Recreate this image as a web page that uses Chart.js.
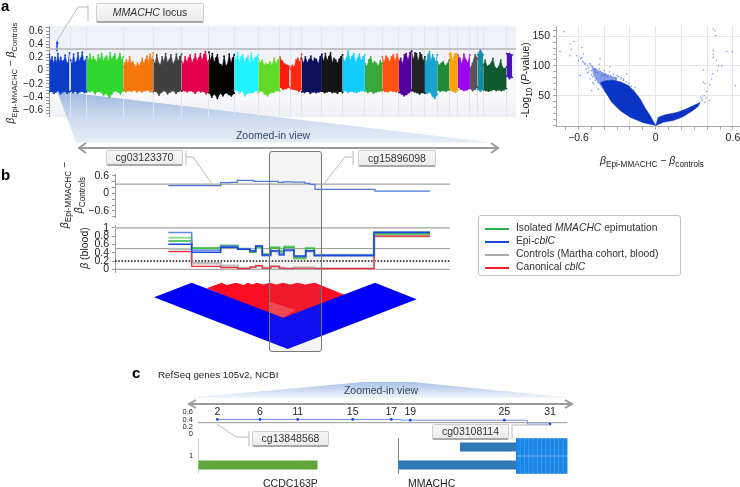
<!DOCTYPE html>
<html>
<head>
<meta charset="utf-8">
<title>Epi-MMACHC figure</title>
<script src="https://cdn.jsdelivr.net/npm/chart.js@4"></script>
<style>
  html, body { margin: 0; padding: 0; background: #fff; }
  body { width: 740px; height: 487px; position: relative; overflow: hidden; font-family: "Liberation Sans", sans-serif; color: #222; }
  canvas, svg, .t, .box, #legend, #mhBack, #focus { position: absolute; }
  .t { white-space: nowrap; font-size: 10.5px; line-height: 1; }
  .rot { transform: translate(-50%, -50%) rotate(-90deg); }
  .mid { transform: translate(-50%, -50%); }
  .panel { font-weight: bold; font-size: 15px; color: #000; }
  .box { background: linear-gradient(#f8f8f8, #ececec); border: 1px solid #cfcfcf; border-bottom: 2px solid #a8a8a8; border-radius: 2px;
         box-sizing: border-box; font-size: 10.5px; color: #333; text-align: center; }
  sub { font-size: .78em; line-height: 0; }
  #mhBack { left: 49px; top: 26px; width: 467px; height: 91px; background: linear-gradient(#eef0f7, #f4f5fa 55%, #fafafc 75%, #eff0f6); }
  #focus { left: 269px; top: 151px; width: 51px; height: 199px; border: 1px solid #777; border-radius: 3px; background: rgba(150,150,150,.1); }
  #legend { left: 478px; top: 215px; width: 203px; height: 61px; border: 1px solid #c4c4c4; border-radius: 3px; background: #fff; box-sizing: border-box; }
  #legend div { position: absolute; left: 37px; white-space: nowrap; font-size: 10.3px; color: #333; line-height: 1; }
  #legend i.k { position: absolute; left: 6px; width: 24px; height: 2px; }
</style>
</head>
<body>

<div id="mhBack"></div>

<svg width="740" height="487" style="left:0;top:0">
  <defs>
    <linearGradient id="zoomA" x1="0" y1="0" x2="0" y2="1">
      <stop offset="0" stop-color="#9db6e0"/><stop offset=".55" stop-color="#cfdcef"/><stop offset="1" stop-color="#e6edf7"/>
    </linearGradient>
    <linearGradient id="zoomC" x1="0" y1="0" x2="0" y2="1">
      <stop offset="0" stop-color="#a9c0e6"/><stop offset="1" stop-color="#f2f5fb"/>
    </linearGradient>
  </defs>
  <polygon points="57,91 492,142.5 76,142.5" fill="url(#zoomA)"/>
  <polygon points="187,398 363,382 413,382 573,398" fill="url(#zoomC)"/>
</svg>

<canvas id="manhattan" width="517" height="93" style="left:0;top:25px"></canvas>
<canvas id="volcano" width="230" height="122" style="left:520px;top:25px"></canvas>
<canvas id="diffTrack" width="452" height="51" style="left:0;top:168px"></canvas>
<canvas id="betaTrack" width="452" height="51" style="left:0;top:223px"></canvas>
<canvas id="ldBlocks" width="335" height="72" style="left:115px;top:280px"></canvas>
<canvas id="locusTrack" width="450" height="36" style="left:120px;top:403px"></canvas>
<canvas id="geneTrack" width="448" height="36" style="left:120px;top:438px"></canvas>

<svg width="740" height="487" style="left:0;top:0" fill="none">
  <g stroke="#b9b9b9" stroke-width="1">
    <path d="M57,41 L78,7 L88,7 M88,5 L88,21"/>
    <path d="M186,151 L186,165 M186,157 L193,157 L212,184"/>
    <path d="M353,151 L353,165 M353,157 L345,157 L323,185"/>
    <path d="M217,424 L236,437 L249,437 M249,431 L249,446"/>
    <path d="M512,425 L512,439 M512,425 L550,425"/>
  </g>
  <g stroke="#9b9b9b" stroke-width="2">
    <path d="M79,148 L498,148 M86,143 L79,148 L86,153 M491,143 L498,148 L491,153"/>
    <path d="M189,404 L572,404 M196,400 L189,404 L196,408 M565,400 L572,404 L565,408"/>
  </g>
</svg>

<div id="focus"></div>

<div class="t panel" style="left:1px;top:-2px">a</div>
<div class="t panel" style="left:1px;top:167px">b</div>
<div class="t panel" style="left:132px;top:365px">c</div>

<div class="t rot" style="left:11px;top:73px;font-size:10px"><i>β</i><sub>Epi-MMACHC</sub> − <i>β</i><sub>Controls</sub></div>
<div class="t rot" style="left:525px;top:80px">-Log<sub>10</sub> (<i>P</i>-value)</div>
<div class="t mid" style="left:652px;top:160px"><i>β</i><sub>Epi-MMACHC</sub> − <i>β</i><sub>controls</sub></div>
<div class="t rot" style="left:64px;top:195px"><i>β</i><sub>Epi-MMACHC</sub> −</div>
<div class="t rot" style="left:78px;top:195px"><i>β</i><sub>Controls</sub></div>
<div class="t rot" style="left:84px;top:248px"><i>β</i> (blood)</div>

<div class="box" style="left:96px;top:3px;width:108px;height:20px;line-height:17px"><i>MMACHC</i> locus</div>
<div class="box" style="left:106px;top:150px;width:77px;height:16px;line-height:13px">cg03123370</div>
<div class="box" style="left:358px;top:150px;width:78px;height:17px;line-height:14px">cg15896098</div>
<div class="box" style="left:252px;top:431px;width:77px;height:16px;line-height:13px">cg13848568</div>
<div class="box" style="left:432px;top:424px;width:77px;height:16px;line-height:13px">cg03108114</div>

<div class="t mid" style="left:273px;top:135px;color:#33476b">Zoomed-in view</div>
<div class="t mid" style="left:381px;top:390px;color:#33476b">Zoomed-in view</div>
<div class="t" style="left:158px;top:370px;font-size:9.8px">RefSeq genes 105v2, NCBI</div>
<div class="t" style="left:263px;top:478px">CCDC163P</div>
<div class="t" style="left:408px;top:478px">MMACHC</div>
<div class="t" style="left:189px;top:452px;font-size:7.5px">1</div>

<div id="legend">
  <i class="k" style="top:11.5px;background:#2ab04a"></i><div style="top:7px">Isolated <i>MMACHC</i> epimutation</div>
  <i class="k" style="top:24.5px;background:#1a44e0"></i><div style="top:20px">Epi-<i>cblC</i></div>
  <i class="k" style="top:37.5px;background:#aaa"></i><div style="top:33px">Controls (Martha cohort, blood)</div>
  <i class="k" style="top:50.5px;background:#ee1c25"></i><div style="top:46px">Canonical <i>cblC</i></div>
</div>

<script>
// panel a, manhattan: envelope of the points per chromosome
const chromStarts = [0.3, 21.7, 37.7, 74.3, 104.3, 132.7, 160, 185.3, 209.3, 231, 241.5, 252.7, 273, 293.7, 316, 333.3, 350, 362.7, 376, 388.3, 400.3, 409, 421, 428.7, 434.3, 457.7];
const chromEnds = [20.5, 37.7, 74.3, 104.3, 132.7, 160, 185.3, 209.3, 231, 240.5, 252.7, 273, 293.7, 316, 333.3, 350, 362.7, 376, 388.3, 400.3, 409, 421, 428.7, 434.3, 457.7, 463.3];
const chromColors = ["#0a3cc8", "#0a3cc8", "#2ed62e", "#f5760a", "#404040", "#e0004c", "#000000", "#22f4ff", "#62da2a", "#ff1a0a", "#ff2a10", "#0c0f5e", "#141414", "#12ccff", "#38a83a", "#ff5210", "#52009e", "#222222", "#18a2d0", "#1f8a3a", "#ffa30a", "#9a08f0", "#555555", "#0f8ea8", "#0f5a2e", "#4a10c0"];
const chromTops = [
  [.25, .14, .21, .1, .2, .12, .26, .13, .2, .135, .15, .235, .12, .11, .27],
  [.16, .1, .25, .12, .135, .27, .14, .185, .28, .13, .15, .21],
  [.21, .15, .25, .14, .21, .16, .12, .24, .15, .26, .14, .185, .22, .13, .27, .16, .21, .25, .14, .185, .26, .15, .21],
  [.06, .12, .16, .09, .21, .11, .135, .085, .05, .12, .07, .11, .185, .1, .16, .22, .13, .25, .15, .27],
  [.16, .1, .24, .11, .08, .21, .13, .26, .12, .16, .24, .1, .135, .25, .14, .21, .25],
  [.135, .09, .21, .13, .185, .24, .12, .16, .25, .14, .185, .26, .15, .24, .29, .13, .16],
  [.28, .15, .26, .12, .185, .24, .1, .09, .06, .22, .07, .09, .25, .11, .185, .24],
  [.25, .14, .28, .13, .21, .24, .12, .185, .22, .1, .26, .13, .19, .21, .24],
  [.185, .11, .16, .08, .11, .09, .135, .07, .185, .1, .16, .21],
  [.2, .14, .1, .08, .07],
  [.03, .08, .05, .16, .185, .12, .25],
  [.185, .11, .21, .12, .16, .22, .13, .185, .17, .1, .21, .25],
  [.24, .13, .26, .15, .21, .27, .12, .185, .16, .11, .17, .21, .24],
  [.24, .13, .185, .3, .15, .21, .26, .12, .185, .25, .14, .21, .24],
  [.11, .06, .16, .21, .1, .135, .11, .07, .15, .11],
  [.21, .12, .22, .185, .13, .21, .24, .14, .25, .16],
  [.135, .185, .1, .24, .26, .15, .27, .3],
  [.29, .16, .27, .26, .13, .27, .24, .14, .21],
  [.21, .12, .24, .29, .14, .24, .185, .12, .24],
  [.135, .08, .11, .135, .07, .1, .16],
  [.26, .27, .16, .25, .26, .22],
  [.24, .185, .1, .25, .16, .12, .24],
  [.03, .11, .24, .185],
  [.24, .32, .24],
  [.08, .16, .06, .08, .11, .185, .05, .03, .06, .16, .04, .03, .06],
  [.26, .26, .24]
];
const chromBottoms = [
  [-.32, -.31, -.34, -.32, -.3, -.35, -.32, -.31, -.34, -.32],
  [-.31, -.33, -.31, -.34, -.32, -.31, -.33, -.32],
  [-.3, -.32, -.3, -.35, -.31, -.32, -.37, -.34, -.41, -.35, -.3, -.32, -.35, -.3],
  [-.3, -.32, -.3, -.31, -.29, -.32, -.3, -.32, -.3, -.29, -.32, -.3],
  [-.32, -.31, -.37, -.32, -.3, -.35, -.32, -.3, -.34, -.31, -.3],
  [-.31, -.3, -.32, -.3, -.31, -.34, -.3, -.32, -.31, -.35, -.31],
  [-.33, -.4, -.35, -.42, -.34, -.38, -.33, -.36, -.38, -.34],
  [-.3, -.29, -.33, -.3, -.38, -.34, -.33, -.33, -.3, -.3],
  [-.33, -.3, -.35, -.38, -.33, -.33, -.3, -.31],
  [-.25, -.28, -.27, -.25],
  [-.27, -.28, -.29, -.31, -.28],
  [-.32, -.33, -.31, -.34, -.32, -.33, -.32, -.31],
  [-.31, -.33, -.32, -.31, -.33, -.32, -.34, -.31, -.33],
  [-.31, -.3, -.33, -.31, -.32, -.33, -.31, -.3, -.31],
  [-.3, -.33, -.31, -.34, -.32, -.31, -.3],
  [-.3, -.31, -.32, -.3, -.31, -.32, -.3],
  [-.33, -.35, -.38, -.36, -.33, -.3],
  [-.3, -.32, -.33, -.35, -.33, -.34],
  [-.33, -.34, -.32, -.38, -.42, -.36],
  [-.29, -.31, -.3, -.31, -.29],
  [-.28, -.3, -.31, -.33, -.29],
  [-.25, -.28, -.3, -.29, -.27],
  [-.26, -.3, -.28, -.25],
  [-.28, -.31, -.27],
  [-.29, -.3, -.31, -.3, -.28, -.3, -.29, -.3, -.29, -.27],
  [-.08, -.12, -.1]
];
const locusPos = [8, 8, 8, 8, 8, 8.6];
const locusDiff = [.43, .4, .37, .34, .31, .42];
const mhThreshold = [.33, .33];
const mhTicks = [-.65, -.6, -.55, -.5, -.45, -.4, -.35, -.3, -.25, -.2, -.15, -.1, -.05, 0, .05, .1, .15, .2, .25, .3, .35, .4, .45, .5, .55, .6, .65];
const mhLabels = [-.6, -.4, -.2, 0, .2, .4, .6];

// volcano: dense core, thinner halo, stray points
const coreUpperX = [0, -.044, -.083, -.122, -.161, -.212, -.27, -.33, -.39, -.43];
const coreUpperY = [0, 16.7, 30, 45, 56, 67, 73, 76, 75, 72];
const coreLowerX = [0, -.096, -.2, -.277, -.342, -.39, -.43];
const coreLowerY = [0, 4.5, 14, 25, 39, 56, 72];
const haloUpperX = [-.3, -.36, -.407, -.459, -.497];
const haloUpperY = [80, 84, 88, 94, 98];
const haloLowerX = [-.3, -.36, -.394, -.433, -.484, -.497];
const haloLowerY = [70, 50, 56, 68, 84, 98];
const rightUpperX = [0, .02, .073, .163, .24, .319, .345];
const rightUpperY = [0, 14, 18, 22, 28, 36, 39];
const rightLowerX = [0, .06, .137, .215, .28, .33, .345];
const rightLowerY = [0, 5.6, 8.4, 15, 24, 32, 39];
const strayX = [.448, .461, .466, .448, .448, .448, .474, .487, .513, .482, .37, .443, .435, .37, .383, .422, .396, .376, .417, .357, .383, .552, .596, .617, .39, .36, .35,
  -.712, -.635, -.666, -.744, -.653, -.666, -.614, -.575, -.562, -.575, -.6, -.588, -.55, -.5, -.54, -.433, -.355, -.225, -.497, -.446, -.16, -.25, -.52, -.53, -.56, -.51, -.47, -.48, -.44, -.4, -.36, -.3, -.27, -.58, -.51, -.49,
  -.57, -.55, -.53, -.52, -.51, -.5, -.49, -.48, -.47, -.46, -.45, -.44, -.43, -.42, -.41, -.4, -.39, -.38, -.37, -.35, -.33, -.31, -.29, -.27, -.25, -.23, -.21, -.19, -.17, -.47, -.45, -.43, -.5, -.49, -.46];
const strayY = [162, 159, 151, 126, 120, 114, 109, 100, 100, 92, 93, 87, 78, 72.6, 70, 68, 57, 50, 42, 45, 39, 124, 124, 67, 46, 42, 48,
  157.5, 141, 137, 124, 128, 117, 117, 131, 120, 114, 109, 84, 103, 100, 95, 112, 98, 86.5, 58.6, 61, 64, 78, 90, 88, 106, 104, 96, 70, 103, 92, 90, 84, 80, 112, 78, 72,
  108, 104, 100, 97, 102, 92, 99, 94, 90, 94, 88, 95, 91, 84, 88, 84, 87, 82, 85, 83, 86, 80, 82, 78, 76, 73, 71, 66, 60, 76, 72, 70, 85, 82, 79];
const volcanoXTicks = [-.7, -.6, -.5, -.4, -.3, -.2, -.1, 0, .1, .2, .3, .4, .5, .6];
const volcanoXLabels = [-.6, 0, .6];
const volcanoXGrid = [-.6, -.4, -.2, 0, .2, .4, .6];
const volcanoYTicks = [0, 10, 20, 30, 40, 50, 60, 70, 80, 90, 100, 110, 120, 130, 140, 150, 160];
const volcanoYLabels = [50, 100, 150];

// panel b, methylation difference
const diffEdges = [53.3, 98.3, 105.7, 115, 122.3, 138.3, 163.3, 168.3, 178.3, 190, 195, 200, 260, 315];
const diffValues = [.265, .27, .37, .38, .45, .415, .38, .4, .39, .345, .31, .14, .08];
const diffThreshold = [.32, .32];
const diffTicks = [-.8, -.6, -.4, -.2, 0, .2, .4, .6];
const diffLabels = [-.6, 0, .6];

// panel b, blood beta per group
const betaEdges = [53.3, 76.7, 105.7, 122.7, 135, 140.7, 147.3, 155.7, 164.3, 169, 179, 190.7, 199.3, 259, 315];
const epiDark = [.606, .41, .53, .484, .45, .564, .346, .45, .346, .467, .322, .45, .33, .886];
const epiLight = [.886, .46, .56, .49, .43, .56, .33, .43, .38, .45, .31, .43, .35, .9];
const isolatedDark = [.685, .515, .564, .5, .41, .54, .36, .515, .44, .53, .28, .5, .34, .855];
const isolatedLight = [.765, .5, .58, .49, .42, .52, .37, .54, .4, .55, .26, .52, .35, .88];
const controlsBeta = [.484, .145, .085, .03, .05, .08, .03, .07, .03, .02, .04, .04, .02, .8];
const canonicalBeta = [.426, .072, .04, .015, .055, .087, .03, .07, .03, .015, .025, .025, .015, .8];
const betaTicks = [0, .2, .4, .6, .8, 1];
const betaGuides = [1, .5, 0];
const betaCutoff = [.2, .2];

// LD triangle under panel b
const ldBlueTopX = [39, 76.7, 168.3, 260, 301.7];
const ldBlueTopY = [17.3, 2.7, 37.7, 2.7, 19.3];
const ldBlueBottomX = [39, 172.7, 301.7];
const ldBlueBottomY = [17.3, 69, 19.3];
const ldRedTopX = [91.7, 106.7, 111.7, 121, 128.5, 133, 137, 142, 148, 155, 161, 168, 175, 183, 190, 200, 230];
const ldRedTopY = [8.3, 2.7, 5, 2.7, 5, 2.7, 4.5, 2.7, 4.5, 2.7, 4.5, 2.7, 4.5, 2.7, 4.5, 2.7, 15];
const ldRedBottomX = [91.7, 168.3, 230];
const ldRedBottomY = [8.3, 40, 15];
const ldPaleTopX = [155, 180];
const ldPaleTopY = [21.7, 30];
const ldPaleBottomX = [155, 168.3, 180];
const ldPaleBottomY = [33, 37.7, 30];

// panel c
const probeLabels = ["2", "6", "11", "15", "17", "19", "25", "31"];
const probePos = [19.3, 62, 99.7, 154.7, 193.3, 212.3, 306.3, 352];
const probeDiff = [.4, .4, .4, .4, .4, .38, .38, .27];
const locusEdges = [19.3, 203, 329.3, 352];
const locusValues = [.4, .38, .27];
const locusThreshold = [.31, .31];
const locusTicks = [0, .2, .4, .6];
const geneRows = ["upper", "lower"];
const ccdcSpan = [[0, 0], [0, 119.5]];
const mmachcSpan = [[262, 318], [200.3, 318]];
const exonStarts = [318, 322.3, 326.6, 330.9, 335.2, 339.5, 343.8, 348.1, 352.4, 356.7, 361, 365.3];
const exonEnds = [321.8, 326.1, 330.4, 334.7, 339, 343.3, 347.6, 351.9, 356.2, 360.5, 364.8, 369.3];
const geneGuides = [0, 200.3];


Chart.defaults.animation = false;
Chart.defaults.responsive = false;
Chart.defaults.font.family = '"Liberation Sans", sans-serif';
Chart.defaults.color = "#222";
Chart.defaults.plugins.legend.display = false;
Chart.defaults.plugins.tooltip.enabled = false;
Chart.defaults.elements.point.radius = 0;
Chart.defaults.elements.point.hoverRadius = 0;
Chart.defaults.elements.line.tension = 0;

const zip = (xs, ys) => xs.map((x, i) => ({ x: x, y: ys[i] }));
const setTicks = values => scale => { scale.ticks = values.map(v => ({ value: v })); };
// the tick labels would otherwise push the plot area in, it has to sit on exact pixels
const fixWidth = w => scale => { scale.width = w; scale.paddingTop = 0; scale.paddingBottom = 0; };
const fixHeight = h => scale => { scale.height = h; scale.paddingLeft = 0; scale.paddingRight = 0; };
const minusLabel = (v, shown) => shown.includes(v) ? String(v).replace("-", "−") : "";
const steps = (edges, vals) => edges.map((x, i) => ({ x: x, y: vals[Math.min(i, vals.length - 1)] }));
const hiddenX = (min, max) => ({ type: "linear", min: min, max: max, display: false });
const spread = (start, end, vals) => vals.map((_, i) => start + (end - start) * i / (vals.length - 1));

function yAxis(min, max, width, ticks, labels, size) {
  return {
    min: min, max: max,
    afterFit: fixWidth(width),
    afterBuildTicks: setTicks(ticks),
    border: { color: "#999" },
    grid: { drawOnChartArea: false, tickLength: 3, tickColor: "#999" },
    ticks: { autoSkip: false, padding: 3, font: { size: size }, callback: v => minusLabel(v, labels) }
  };
}

function hline(xmax, vals, color, width, dash) {
  return { data: zip([0, xmax], vals), borderColor: color, borderWidth: width, borderDash: dash || [] };
}

// manhattan
const mhData = [hline(467, mhThreshold, "#b2b2b6", 1.6)];
mhData.push({ data: zip(locusPos, locusDiff), showLine: false, pointRadius: 1.1, pointBackgroundColor: "#2050e0", pointBorderWidth: 0 });
chromStarts.forEach((start, c) => {
  const base = { borderColor: chromColors[c], borderWidth: .6, pointRadius: .9, pointBackgroundColor: chromColors[c], pointBorderWidth: 0 };
  mhData.push(Object.assign({ data: zip(spread(start, chromEnds[c], chromTops[c]), chromTops[c]), fill: "+1", backgroundColor: chromColors[c] }, base));
  mhData.push(Object.assign({ data: zip(spread(start, chromEnds[c], chromBottoms[c]), chromBottoms[c]) }, base));
});

new Chart(document.getElementById("manhattan"), {
  type: "line",
  data: { datasets: mhData },
  options: {
    layout: { padding: 1 },
    scales: {
      x: {
        type: "linear", min: 0, max: 467,
        afterFit: fixHeight(0),
        afterBuildTicks: setTicks(chromStarts),
        border: { display: false },
        grid: { color: "#e3e4ec", drawTicks: false },
        ticks: { display: false }
      },
      y: yAxis(-.7, .676, 48, mhTicks, mhLabels, 10)
    }
  }
});

// volcano
const wing = "#0a35c4";
new Chart(document.getElementById("volcano"), {
  type: "line",
  data: {
    datasets: [
      { data: zip(strayX, strayY), showLine: false, pointRadius: .75, pointBackgroundColor: "rgba(30,70,220,.6)", pointBorderWidth: 0 },
      { data: zip(coreUpperX, coreUpperY), borderColor: wing, borderWidth: .5, fill: "+1", backgroundColor: wing },
      { data: zip(coreLowerX, coreLowerY), borderColor: wing, borderWidth: .5 },
      { data: zip(rightUpperX, rightUpperY), borderColor: wing, borderWidth: .5, fill: "+1", backgroundColor: wing },
      { data: zip(rightLowerX, rightLowerY), borderColor: wing, borderWidth: .5 },
      { data: zip(haloUpperX, haloUpperY), borderColor: "rgba(20,60,210,.2)", borderWidth: .5, fill: "+1", backgroundColor: "rgba(20,60,210,.5)" },
      { data: zip(haloLowerX, haloLowerY), borderColor: "rgba(20,60,210,.2)", borderWidth: .5 }
    ]
  },
  options: {
    layout: { padding: { left: 1, top: 1, bottom: 1, right: 10 } },
    scales: {
      x: {
        type: "linear", min: -.775, max: .655,
        afterFit: fixHeight(19.3),
        afterBuildTicks: setTicks(volcanoXTicks),
        border: { color: "#aaa" },
        grid: { tickLength: 3, tickColor: "#aaa", color: c => volcanoXGrid.includes(c.tick && c.tick.value) ? "#e6e6ea" : "transparent" },
        ticks: { autoSkip: false, maxRotation: 0, padding: 2, font: { size: 10.5 }, callback: v => minusLabel(v, volcanoXLabels) }
      },
      y: {
        min: -2, max: 167,
        afterFit: fixWidth(35),
        afterBuildTicks: setTicks(volcanoYTicks),
        border: { color: "#aaa" },
        grid: { tickLength: 3, tickColor: "#aaa", color: c => volcanoYLabels.includes(c.tick && c.tick.value) ? "#e6e6ea" : "transparent" },
        ticks: { autoSkip: false, padding: 3, font: { size: 10.5 }, callback: v => minusLabel(v, volcanoYLabels) }
      }
    }
  }
});

// panel b tracks
new Chart(document.getElementById("diffTrack"), {
  type: "line",
  data: {
    datasets: [
      { data: steps(diffEdges, diffValues), stepped: "before", borderColor: "#4d78d8", borderWidth: 1.2 },
      hline(335, diffThreshold, "#8e8e8e", 1)
    ]
  },
  options: {
    layout: { padding: { top: 6, bottom: 2, left: 2, right: 2 } },
    scales: {
      x: hiddenX(0, 335),
      y: yAxis(-.81, .668, 113, diffTicks, diffLabels, 10.5)
    }
  }
});

const betaLine = (vals, color, width) => ({ data: steps(betaEdges, vals), stepped: "before", borderColor: color, borderWidth: width });
new Chart(document.getElementById("betaTrack"), {
  type: "line",
  data: {
    datasets: [
      betaLine(epiDark, "#1a44e0", 1.5),
      betaLine(epiLight, "#5f88e2", 1.5),
      betaLine(isolatedDark, "#2fb53a", 1.5),
      betaLine(isolatedLight, "#8fe08f", 2),
      betaLine(canonicalBeta, "#ee2a3a", 1.2),
      betaLine(controlsBeta, "#bdbdbd", 2.5),
      hline(335, betaCutoff, "#111", 1.6, [1.6, 1.6]),
      hline(335, [betaGuides[0], betaGuides[0]], "#bdbdbd", 1.8),
      hline(335, [betaGuides[1], betaGuides[1]], "#999", 1),
      hline(335, [betaGuides[2], betaGuides[2]], "#999", 1)
    ]
  },
  options: {
    layout: { padding: 2 },
    scales: {
      x: hiddenX(0, 335),
      y: yAxis(-.065, 1.07, 113, betaTicks, betaTicks, 10.5)
    }
  }
});

new Chart(document.getElementById("ldBlocks"), {
  type: "line",
  data: {
    datasets: [
      { data: zip(ldBlueTopX, ldBlueTopY), fill: "+1", backgroundColor: "#0000fa", borderWidth: 0 },
      { data: zip(ldBlueBottomX, ldBlueBottomY), borderWidth: 0 },
      { data: zip(ldPaleTopX, ldPaleTopY), fill: "+1", backgroundColor: "#f8404c", borderWidth: 0 },
      { data: zip(ldPaleBottomX, ldPaleBottomY), borderWidth: 0 },
      { data: zip(ldRedTopX, ldRedTopY), fill: "+1", backgroundColor: "#fb0d22", borderWidth: 0 },
      { data: zip(ldRedBottomX, ldRedBottomY), borderWidth: 0 }
    ]
  },
  options: {
    scales: {
      x: hiddenX(0, 335),
      y: { min: 0, max: 72, reverse: true, display: false }
    }
  }
});

// panel c tracks
const probeNumbers = {
  id: "probeNumbers",
  afterDatasetsDraw(chart) {
    const ctx = chart.ctx;
    ctx.save();
    ctx.font = '10.5px "Liberation Sans", sans-serif';
    ctx.fillStyle = "#222";
    ctx.textAlign = "center";
    ctx.textBaseline = "middle";
    probeLabels.forEach((label, i) => {
      ctx.fillText(label, chart.scales.x.getPixelForValue(probePos[i]), chart.scales.y.getPixelForValue(.6));
    });
    ctx.restore();
  }
};

new Chart(document.getElementById("locusTrack"), {
  type: "line",
  data: {
    datasets: [
      { data: zip(probePos, probeDiff), showLine: false, pointRadius: 1.4, pointBackgroundColor: "#1a44e0", pointBorderWidth: 0 },
      { data: steps(locusEdges, locusValues), stepped: "before", borderColor: "#6f93e2", borderWidth: 1 },
      hline(369.5, locusThreshold, "#999", 1)
    ]
  },
  options: {
    layout: { padding: 2 },
    scales: {
      x: hiddenX(0, 370),
      y: {
        min: -.09, max: .804,
        afterFit: fixWidth(76),
        afterBuildTicks: setTicks(locusTicks),
        border: { display: false },
        grid: { display: false, drawTicks: false },
        ticks: { padding: 5, font: { size: 7.5 }, autoSkip: false, callback: v => String(v) }
      }
    }
  },
  plugins: [probeNumbers]
});

const exonSets = exonStarts.map((s, i) => ({
  data: [[s, exonEnds[i]], [s, exonEnds[i]]], backgroundColor: "#1c86e6", grouped: false, barPercentage: .96, categoryPercentage: 1, order: 1
}));
new Chart(document.getElementById("geneTrack"), {
  type: "bar",
  data: {
    labels: geneRows,
    datasets: exonSets.concat([
      { data: [[318, 369.3], [318, 369.3]], backgroundColor: "#58a8ee", grouped: false, barPercentage: .96, categoryPercentage: 1, order: 2 },
      { data: ccdcSpan, backgroundColor: "#5fa53c", grouped: false, barPercentage: .49, categoryPercentage: 1, order: 3 },
      { data: mmachcSpan, backgroundColor: "#2f77b5", grouped: false, barPercentage: .49, categoryPercentage: 1, order: 3 }
    ])
  },
  options: {
    indexAxis: "y",
    layout: { padding: { left: 78 } },
    scales: {
      x: {
        type: "linear", min: 0, max: 370,
        afterFit: fixHeight(0),
        afterBuildTicks: setTicks(geneGuides),
        border: { display: false },
        grid: { color: c => c.index === 0 ? "#d4d4d4" : "#888", drawTicks: false },
        ticks: { display: false }
      },
      y: { display: false }
    }
  }
});
</script>
</body>
</html>
